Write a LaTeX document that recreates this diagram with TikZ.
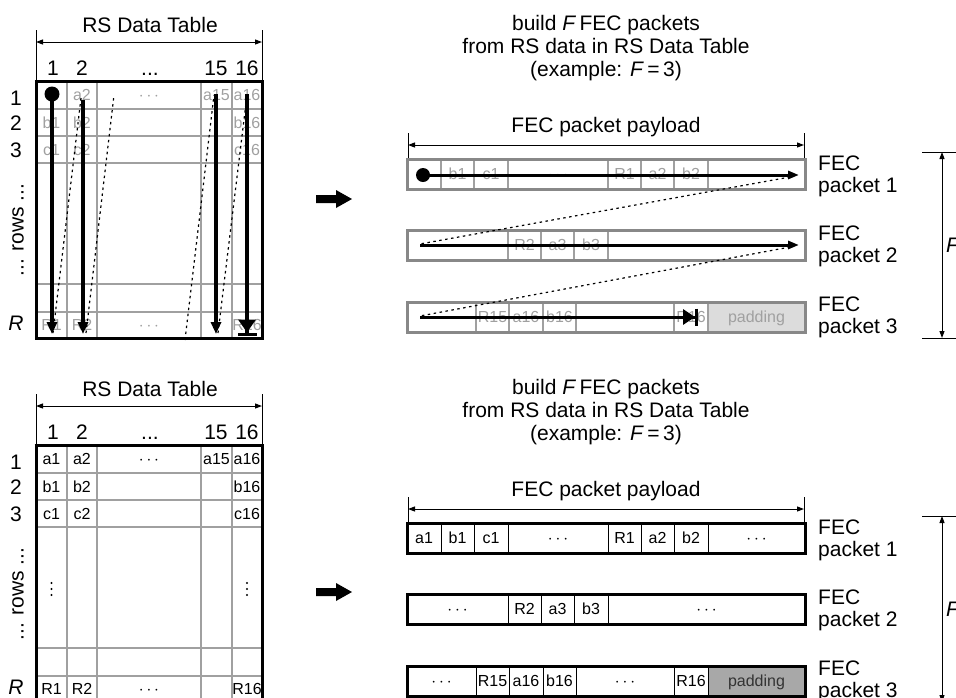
\documentclass[tikz,border=0pt]{standalone}
\usepackage{fontspec}
\setmainfont{Liberation Sans}
\usetikzlibrary{arrows.meta}
\definecolor{gridg}{HTML}{A0A0A0}
\definecolor{txtg}{HTML}{A0A0A0}
\definecolor{boxg}{HTML}{888888}
\definecolor{padlight}{HTML}{DCDCDC}
\definecolor{paddark}{HTML}{A8A8A8}
\begin{document}
\begin{tikzpicture}[x=1pt,y=-1pt,
  big/.style={font=\fontsize{21}{24}\selectfont, inner sep=0pt},
  cellb/.style={font=\fontsize{16}{18}\selectfont, inner sep=0pt, text height=11.5pt, text depth=0pt},
  cellg/.style={cellb, text=txtg},
  gridline/.style={draw=gridg, line width=1.2pt},
  border/.style={draw=black, line width=3pt},
  dimline/.style={draw=black, line width=1pt, {Triangle[length=7pt,width=5pt]}-{Triangle[length=7pt,width=5pt]}},
  extline/.style={draw=black, line width=1pt},
  flow/.style={draw=black, line width=3.5pt, -{Triangle[length=12pt,width=10pt]}},
  flowend/.style={draw=black, line width=3.5pt, -{Triangle[length=13pt,width=17pt]Bar[width=19pt]}},
  pflow/.style={draw=black, line width=3pt, -{Triangle[length=11pt,width=8pt]}},
  pflowend/.style={draw=black, line width=3pt, -{Triangle[length=12pt,width=15pt]Bar[width=17pt]}},
  dots/.style={draw=black, line width=1.2pt, dash pattern=on 2.5pt off 3.5pt},
  pboxg/.style={draw=boxg, line width=3pt},
  pboxk/.style={draw=black, line width=3pt},
  pdivg/.style={draw=gridg, line width=1.2pt},
  pdivk/.style={draw=black, line width=1pt},
  blockarrow/.style={fill=black},
  title/.style={align=center, inner sep=0pt, font=\fontsize{21}{23}\selectfont}
]
\useasboundingbox (0,0) rectangle (956,697);

% ================= TOP TABLE =================
\foreach \x in {67,97,201,232} {\draw[gridline] (\x,81) -- (\x,338);}
\foreach \y in {109,136,163,284,312} {\draw[gridline] (36,\y) -- (262,\y);}
\draw[border] (36,81) rectangle (262,338);
\node[big,anchor=base] (tT) at (150,32) {RS Data Table};
\coordinate (tL) at (36,42); \coordinate (tR) at (262,42);
\draw[extline] (36,30) -- (36,81);
\draw[extline] (262,30) -- (262,81);
\draw[dimline] (tL) -- (tR);
\node[big,anchor=base] (tc1) at (53,75) {1};
\node[big,anchor=base] (tc2) at (82,75) {2};
\node[big,anchor=base] (tc3) at (150,75) {...};
\node[big,anchor=base] (tc4) at (216,75) {15};
\node[big,anchor=base] (tc5) at (247,75) {16};
\node[big,anchor=base] (tr1) at (16,105) {1};
\node[big,anchor=base] (tr2) at (16,130) {2};
\node[big,anchor=base] (tr3) at (16,157) {3};
\node[big,rotate=90] (tr4) at (18,230) {... rows ...};
\node[big,anchor=base] (trR) at (16,330) {\itshape R};
% gray cell texts
\node[cellg] (ta2) at (82,95) {a2};
\node[cellg] (tad) at (149,95) {$\cdots$};
\node[cellg] (ta15) at (216.5,95) {a15};
\node[cellg] (ta16) at (247,95) {a16};
\node[cellg] (tb1) at (51.5,122.5) {b1};
\node[cellg] (tb2) at (82,122.5) {b2};
\node[cellg] (tb16) at (247,122.5) {b16};
\node[cellg] (tcc1) at (51.5,149.5) {c1};
\node[cellg] (tcc2) at (82,149.5) {c2};
\node[cellg] (tcc16) at (247,149.5) {c16};
\node[cellg] (tR1) at (51.5,325) {R1};
\node[cellg] (tR2) at (82,325) {R2};
\node[cellg] (tRd) at (149,325) {$\cdots$};
\node[cellg] (tR16) at (247,325) {R16};
% flow in table
\draw[dots] (53,333) -- (81,98);
\draw[dots] (86,333) -- (114,95);
\draw[dots] (185,340) -- (214,95);
\draw[dots] (218,333) -- (247,95);
\fill (52,94) circle[radius=7.5pt];
\coordinate (f1s) at (52,94); \coordinate (f1e) at (52,334);
\coordinate (f2s) at (83,100); \coordinate (f2e) at (83,334);
\coordinate (f3s) at (216,94); \coordinate (f3e) at (216,334);
\coordinate (f4s) at (247,94); \coordinate (f4e) at (247,336);
\draw[flow] (f1s) -- (f1e);
\draw[flow] (f2s) -- (f2e);
\draw[flow] (f3s) -- (f3e);
\draw[flowend] (f4s) -- (f4e);

% ================= BOTTOM TABLE =================
\begin{scope}[shift={(0,364)}]
\foreach \x in {67,97,201,232} {\draw[gridline] (\x,81) -- (\x,340);}
\foreach \y in {109,136,163,284,312} {\draw[gridline] (36,\y) -- (262,\y);}
\draw[border] (36,81) -- (36,340);
\draw[border] (262,81) -- (262,340);
\draw[border] (34.5,81) -- (263.5,81);
\node[big,anchor=base] (bT) at (150,32) {RS Data Table};
\draw[extline] (36,30) -- (36,81);
\draw[extline] (262,30) -- (262,81);
\coordinate (bL) at (36,42); \coordinate (bR) at (262,42);
\draw[dimline] (bL) -- (bR);
\node[big,anchor=base] (bc1) at (53,75) {1};
\node[big,anchor=base] (bc2) at (82,75) {2};
\node[big,anchor=base] (bc3) at (150,75) {...};
\node[big,anchor=base] (bc4) at (216,75) {15};
\node[big,anchor=base] (bc5) at (247,75) {16};
\node[big,anchor=base] (br1) at (16,105) {1};
\node[big,anchor=base] (br2) at (16,130) {2};
\node[big,anchor=base] (br3) at (16,157) {3};
\node[big,rotate=90] (br4) at (18,230) {... rows ...};
\node[big,anchor=base] (brR) at (16,330) {\itshape R};
\node[cellb] (ba1) at (51.5,95) {a1};
\node[cellb] (ba2) at (82,95) {a2};
\node[cellb] (bad) at (149,95) {$\cdots$};
\node[cellb] (ba15) at (216.5,95) {a15};
\node[cellb] (ba16) at (247,95) {a16};
\node[cellb] (bb1) at (51.5,122.5) {b1};
\node[cellb] (bb2) at (82,122.5) {b2};
\node[cellb] (bb16) at (247,122.5) {b16};
\node[cellb] (bcc1) at (51.5,149.5) {c1};
\node[cellb] (bcc2) at (82,149.5) {c2};
\node[cellb] (bcc16) at (247,149.5) {c16};
% vertical ellipses
\foreach \yy in {219,225,231} {
  \fill (51.5,\yy) circle[radius=1.1pt];
  \fill (247,\yy) circle[radius=1.1pt];
}
\node[cellb] (bR1) at (51.5,325) {R1};
\node[cellb] (bR2) at (82,325) {R2};
\node[cellb] (bRd) at (149,325) {$\cdots$};
\node[cellb] (bR16) at (247,325) {R16};
\end{scope}

% ================= BLOCK ARROWS =================
\fill[blockarrow] (316,195) -- (336,195) -- (336,190) -- (352,199) -- (336,208) -- (336,203) -- (316,203) -- cycle;
\fill[blockarrow] (316,588) -- (336,588) -- (336,583) -- (352,592) -- (336,601) -- (336,596) -- (316,596) -- cycle;

% ================= TOP PACKETS =================
\node[title] (ttitle) at (606,48)
  {build \textit{F}\,FEC packets\\from RS data in RS Data Table\\(example: \textit{F}\,=\,3)};
\node[big,anchor=base] (tpay) at (606,132) {FEC packet payload};
\draw[extline] (408,133) -- (408,159);
\draw[extline] (804,133) -- (804,159);
\coordinate (pL) at (408,145); \coordinate (pR) at (804,145);
\draw[dimline] (pL) -- (pR);
% packet 1
\foreach \x in {441,474,508,608,641,674,708} {\draw[pdivg] (\x,159) -- (\x,189);}
\draw[pboxg] (407,159) rectangle (805,189);
\node[cellg] (tp1b1) at (457.5,174) {b1};
\node[cellg] (tp1c1) at (491,174) {c1};
\node[cellg] (tp1d) at (558,174) {$\cdots$};
\node[cellg] (tp1R1) at (624.5,174) {R1};
\node[cellg] (tp1a2) at (657.5,174) {a2};
\node[cellg] (tp1b2) at (691,174) {b2};
% packet 2
\foreach \x in {508,541,574,608} {\draw[pdivg] (\x,230) -- (\x,260);}
\draw[pboxg] (407,230) rectangle (805,260);
\node[cellg] (tp2R2) at (524.5,245) {R2};
\node[cellg] (tp2a3) at (557.5,245) {a3};
\node[cellg] (tp2b3) at (591,245) {b3};
% packet 3
\fill[padlight] (708,302) rectangle (805,332);
\foreach \x in {476,509,543,576,674,708} {\draw[pdivg] (\x,302) -- (\x,332);}
\draw[pboxg] (407,302) rectangle (805,332);
\node[cellg] (tp3R15) at (492.5,317) {R15};
\node[cellg] (tp3a16) at (526,317) {a16};
\node[cellg] (tp3b16) at (559.5,317) {b16};
\node[cellg] (tp3R16) at (691,317) {R16};
\node[cellg] (tp3pad) at (756.5,317) {padding};
% flow
\coordinate (q1s) at (423,175); \coordinate (q1e) at (799,175);
\coordinate (q2s) at (420,245); \coordinate (q2e) at (799,245);
\coordinate (q3s) at (420,317); \coordinate (q3e) at (698,317);
\draw[dots] (790,177) -- (420,244);
\draw[dots] (790,247) -- (420,316);
\fill (q1s) circle[radius=7pt];
\draw[pflow] (q1s) -- (q1e);
\draw[pflow] (q2s) -- (q2e);
\draw[pflowend] (q3s) -- (q3e);
% labels
\node[big,anchor=base west] (tl1a) at (818,170) {FEC};
\node[big,anchor=base west] (tl1b) at (818,192) {packet 1};
\node[big,anchor=base west] (tl2a) at (818,240) {FEC};
\node[big,anchor=base west] (tl2b) at (818,262) {packet 2};
\node[big,anchor=base west] (tl3a) at (818,311) {FEC};
\node[big,anchor=base west] (tl3b) at (818,333) {packet 3};
% F dimension
\draw[extline] (922,152) -- (956,152);
\draw[extline] (922,338) -- (956,338);
\coordinate (Ft) at (942,152); \coordinate (Fb) at (942,338);
\draw[dimline] (Ft) -- (Fb);
\node[big,anchor=west] (tF) at (946,245) {\itshape F};

% ================= BOTTOM PACKETS =================
\begin{scope}[shift={(0,364)}]
\node[title] (btitle) at (606,48)
  {build \textit{F}\,FEC packets\\from RS data in RS Data Table\\(example: \textit{F}\,=\,3)};
\node[big,anchor=base] (bpay) at (606,132) {FEC packet payload};
\draw[extline] (408,133) -- (408,159);
\draw[extline] (804,133) -- (804,159);
\coordinate (bpL) at (408,145); \coordinate (bpR) at (804,145);
\draw[dimline] (bpL) -- (bpR);
% packet 1
\foreach \x in {441,474,508,608,641,674,708} {\draw[pdivk] (\x,159) -- (\x,189);}
\draw[pboxk] (407,159) rectangle (805,189);
\node[cellb] (bp1a1) at (424,174) {a1};
\node[cellb] (bp1b1) at (457.5,174) {b1};
\node[cellb] (bp1c1) at (491,174) {c1};
\node[cellb] (bp1d) at (558,174) {$\cdots$};
\node[cellb] (bp1R1) at (624.5,174) {R1};
\node[cellb] (bp1a2) at (657.5,174) {a2};
\node[cellb] (bp1b2) at (691,174) {b2};
\node[cellb] (bp1d2) at (756.5,174) {$\cdots$};
% packet 2
\foreach \x in {508,541,574,608} {\draw[pdivk] (\x,230) -- (\x,260);}
\draw[pboxk] (407,230) rectangle (805,260);
\node[cellb] (bp2d) at (457.5,245) {$\cdots$};
\node[cellb] (bp2R2) at (524.5,245) {R2};
\node[cellb] (bp2a3) at (557.5,245) {a3};
\node[cellb] (bp2b3) at (591,245) {b3};
\node[cellb] (bp2d2) at (706.5,245) {$\cdots$};
% packet 3
\fill[paddark] (708,302) rectangle (805,332);
\foreach \x in {476,509,543,576,674,708} {\draw[pdivk] (\x,302) -- (\x,332);}
\draw[pboxk] (407,302) rectangle (805,332);
\node[cellb] (bp3d) at (441.5,317) {$\cdots$};
\node[cellb] (bp3R15) at (492.5,317) {R15};
\node[cellb] (bp3a16) at (526,317) {a16};
\node[cellb] (bp3b16) at (559.5,317) {b16};
\node[cellb] (bp3d2) at (625,317) {$\cdots$};
\node[cellb] (bp3R16) at (691,317) {R16};
\node[cellb,text=black!80] (bp3pad) at (756.5,317) {padding};
% labels
\node[big,anchor=base west] (bl1a) at (818,170) {FEC};
\node[big,anchor=base west] (bl1b) at (818,192) {packet 1};
\node[big,anchor=base west] (bl2a) at (818,240) {FEC};
\node[big,anchor=base west] (bl2b) at (818,262) {packet 2};
\node[big,anchor=base west] (bl3a) at (818,311) {FEC};
\node[big,anchor=base west] (bl3b) at (818,333) {packet 3};
\draw[extline] (922,152) -- (956,152);
\coordinate (bFt) at (942,152); \coordinate (bFb) at (942,338);
\draw[dimline] (bFt) -- (bFb);
\node[big,anchor=west] (bF) at (946,245) {\itshape F};
\end{scope}
\end{tikzpicture}
\end{document}
